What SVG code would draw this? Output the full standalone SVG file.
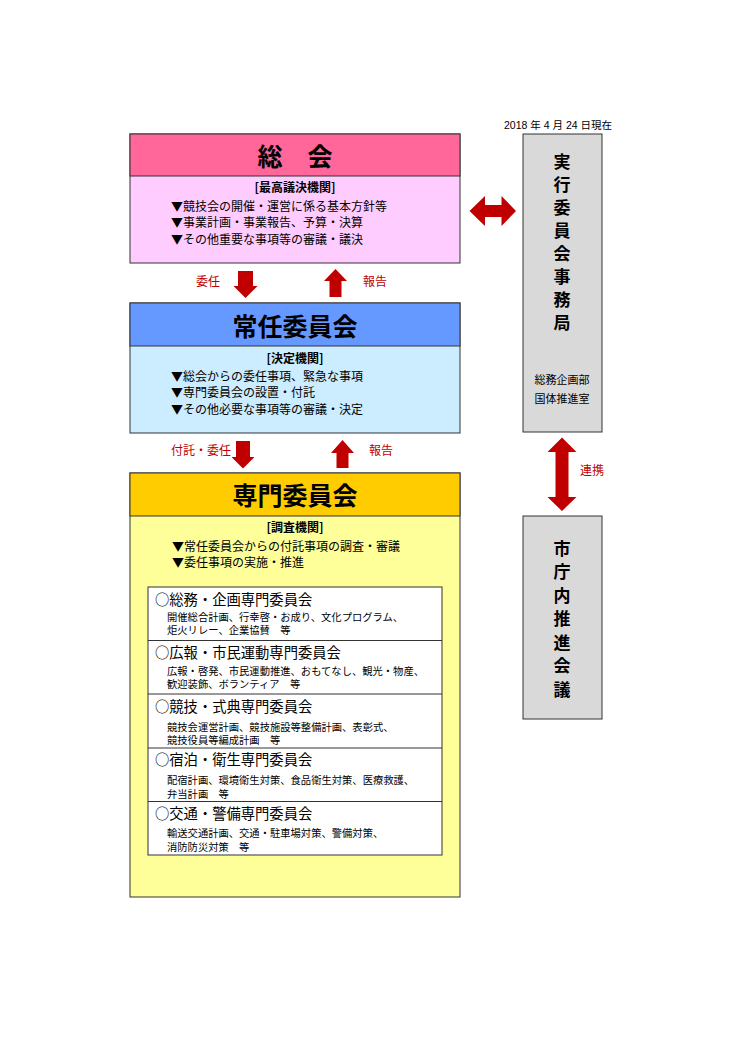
<svg xmlns="http://www.w3.org/2000/svg" width="750" height="1060" viewBox="0 0 750 1060">
<style>
.t{font-family:"Noto Sans CJK JP","Liberation Sans",sans-serif;fill:#000}
.title{font-size:25px;font-weight:bold;text-anchor:middle}
.sub{font-size:12px;font-weight:bold;text-anchor:middle}
.b{font-size:12px}
.h{font-size:14.3px}
.s{font-size:10.3px}
.red{font-family:"Noto Sans CJK JP","Liberation Sans",sans-serif;fill:#C00000;font-size:12px}
.box{stroke:#333;stroke-width:1}
.arrow{fill:#C00000}
.v{font-size:17px;font-weight:bold;text-anchor:middle}
.m{font-size:11px;text-anchor:middle}
</style>
<rect width="750" height="1060" fill="#fff"/>
<text x="612" y="129" font-family="Liberation Sans,Noto Sans CJK JP,sans-serif" font-size="10.5" text-anchor="end">2018 年 4 月 24 日現在</text>

<g id="soukai">
<rect class="box" x="130" y="134" width="330" height="129" fill="#FFCCFF"/>
<rect class="box" x="130" y="134" width="330" height="42" fill="#FF6699"/>
<text class="t title" x="295" y="166" font-size="27">総　会</text>
<text class="t sub" x="295" y="191.5">[最高議決機関]</text>
<text class="t b" x="171" y="210.5">▼競技会の開催・運営に係る基本方針等</text>
<text class="t b" x="171" y="227">▼事業計画・事業報告、予算・決算</text>
<text class="t b" x="171" y="243.5">▼その他重要な事項等の審議・議決</text>
</g>

<g id="jonin">
<rect class="box" x="130" y="303" width="330" height="130" fill="#CCECFF"/>
<rect class="box" x="130" y="303" width="330" height="43" fill="#6699FF"/>
<text class="t title" x="295" y="335.5">常任委員会</text>
<text class="t sub" x="295" y="362.5">[決定機関]</text>
<text class="t b" x="171" y="380.5">▼総会からの委任事項、緊急な事項</text>
<text class="t b" x="171" y="397">▼専門委員会の設置・付託</text>
<text class="t b" x="171" y="413.5">▼その他必要な事項等の審議・決定</text>
</g>

<g id="senmon">
<rect class="box" x="130" y="473" width="330" height="424" fill="#FFFF99"/>
<rect class="box" x="130" y="473" width="330" height="43" fill="#FFCC00"/>
<text class="t title" x="295" y="504.5">専門委員会</text>
<text class="t sub" x="295" y="531.5">[調査機関]</text>
<text class="t b" x="172" y="550.5">▼常任委員会からの付託事項の調査・審議</text>
<text class="t b" x="172" y="566.5">▼委任事項の実施・推進</text>
</g>

<g id="senmon-list">
<rect class="box" x="148" y="587" width="294" height="268" fill="#fff"/>
<line class="box" x1="148" y1="640.5" x2="442" y2="640.5"/>
<line class="box" x1="148" y1="694" x2="442" y2="694"/>
<line class="box" x1="148" y1="748" x2="442" y2="748"/>
<line class="box" x1="148" y1="801.5" x2="442" y2="801.5"/>
<text class="t h" x="155" y="605">○総務・企画専門委員会</text>
<text class="t s" x="167" y="620.5">開催総合計画、行幸啓・お成り、文化プログラム、</text>
<text class="t s" x="167" y="634">炬火リレー、企業協賛　等</text>
<text class="t h" x="155" y="658">○広報・市民運動専門委員会</text>
<text class="t s" x="167" y="674.5">広報・啓発、市民運動推進、おもてなし、観光・物産、</text>
<text class="t s" x="167" y="688">歓迎装飾、ボランティア　等</text>
<text class="t h" x="155" y="711.5">○競技・式典専門委員会</text>
<text class="t s" x="167" y="730.5">競技会運営計画、競技施設等整備計画、表彰式、</text>
<text class="t s" x="167" y="744">競技役員等編成計画　等</text>
<text class="t h" x="155" y="765">○宿泊・衛生専門委員会</text>
<text class="t s" x="167" y="784">配宿計画、環境衛生対策、食品衛生対策、医療救護、</text>
<text class="t s" x="167" y="798">弁当計画　等</text>
<text class="t h" x="155" y="818.5">○交通・警備専門委員会</text>
<text class="t s" x="167" y="837">輸送交通計画、交通・駐車場対策、警備対策、</text>
<text class="t s" x="167" y="851">消防防災対策　等</text>
</g>

<g id="jimukyoku">
<rect class="box" x="523" y="134" width="79" height="298" fill="#D9D9D9"/>
<text class="t v" x="562" y="167.5">実</text>
<text class="t v" x="562" y="190.5">行</text>
<text class="t v" x="562" y="213.5">委</text>
<text class="t v" x="562" y="236.5">員</text>
<text class="t v" x="562" y="259.5">会</text>
<text class="t v" x="562" y="282.5">事</text>
<text class="t v" x="562" y="305.5">務</text>
<text class="t v" x="562" y="328.5">局</text>
<text class="t m" x="562" y="384">総務企画部</text>
<text class="t m" x="562" y="403">国体推進室</text>
</g>

<g id="shichonai">
<rect class="box" x="523" y="516" width="79" height="203" fill="#D9D9D9"/>
<text class="t v" x="562" y="554.5">市</text>
<text class="t v" x="562" y="578">庁</text>
<text class="t v" x="562" y="601.5">内</text>
<text class="t v" x="562" y="625">推</text>
<text class="t v" x="562" y="648.5">進</text>
<text class="t v" x="562" y="672">会</text>
<text class="t v" x="562" y="695.5">議</text>
</g>

<g id="connectors">
<polygon class="arrow" points="238,271 253,271 253,286 257.5,286 245.5,298 233.5,286 238,286"/>
<polygon class="arrow" points="335.5,269 347,281 341.5,281 341.5,297 329.5,297 329.5,281 324,281"/>
<polygon class="arrow" points="236,441 250,441 250,457 254.5,457 243,468.5 231.5,457 236,457"/>
<polygon class="arrow" points="342.5,440 354,453 348.5,453 348.5,468 336.5,468 336.5,453 331,453"/>
<polygon class="arrow" points="469.5,211 485,196 485,205 501.5,205 501.5,196 516,211 501.5,226 501.5,217 485,217 485,226"/>
<polygon class="arrow" points="562,437.5 576.5,452 568.5,452 568.5,497 576.5,497 562,511 547.5,497 555.5,497 555.5,452 547.5,452"/>
<text class="red" x="196" y="285.5">委任</text>
<text class="red" x="363" y="285.5">報告</text>
<text class="red" x="171" y="454.5">付託・委任</text>
<text class="red" x="369" y="454.5">報告</text>
<text class="red" x="580" y="474.5">連携</text>
</g>
</svg>
